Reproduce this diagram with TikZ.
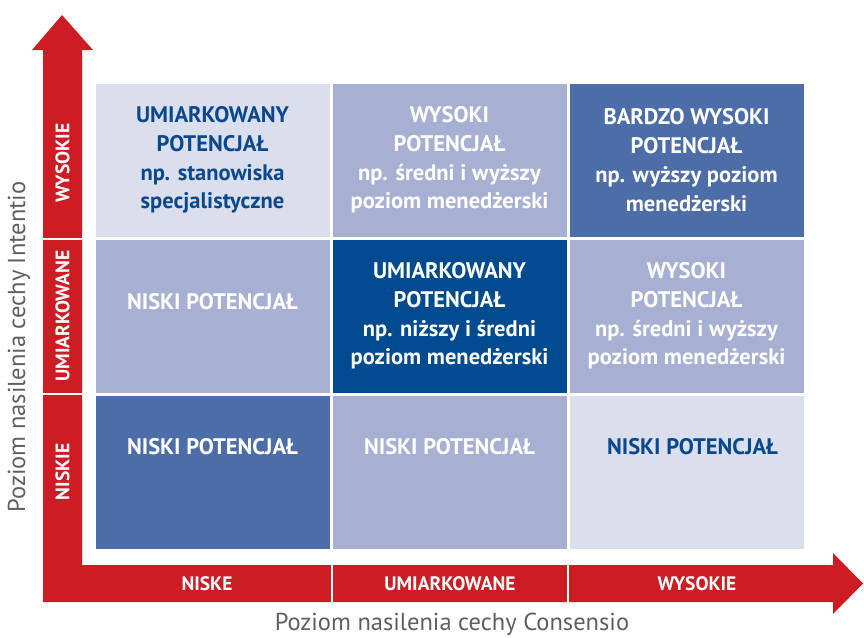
\documentclass[tikz,border=0pt]{standalone}
\usepackage{fontspec}
\setmainfont{PT Sans}
\usetikzlibrary{positioning}

\definecolor{arrowred}{RGB}{204,28,36}
\definecolor{celllight}{RGB}{218,222,237}
\definecolor{cellmid}{RGB}{167,176,211}
\definecolor{celldark}{RGB}{76,109,168}
\definecolor{cellnavy}{RGB}{0,74,143}
\definecolor{textnavy}{RGB}{10,72,140}
\definecolor{axisgray}{RGB}{95,95,95}

\begin{document}
\begin{tikzpicture}[x=1pt,y=-1pt,node distance=3pt,
  cell/.style={rectangle,minimum width=234pt,minimum height=153pt,inner sep=0pt,outer sep=0pt},
  txt/.style={align=center,font=\bfseries\fontsize{22.5}{28.8}\selectfont},
  axlab/.style={text=white,font=\bfseries\fontsize{19.5}{21}\selectfont},
  axtitle/.style={text=axisgray,font=\fontsize{24.5}{27}\selectfont},
  sep/.style={draw=white,line width=2pt}]
\useasboundingbox (0,0) rectangle (864,637);

% arrows
\fill[arrowred] (43,602) -- (43,50) -- (32,50) -- (62,15) -- (93,50) -- (82,50)
   -- (82,565) -- (833,565) -- (833,553) -- (863,583.5) -- (833,614) -- (833,602) -- cycle;
\draw[sep] (43,238.5) -- (82,238.5);
\draw[sep] (43,393.5) -- (82,393.5);
\draw[sep] (331.5,565) -- (331.5,602);
\draw[sep] (567.5,565) -- (567.5,602);

% matrix
\node[cell,fill=celllight] (c11) at (212.5,160) {};
\node[cell,fill=cellmid,right=of c11] (c12) {};
\node[cell,fill=celldark,right=of c12] (c13) {};
\node[cell,fill=cellmid,below=of c11] (c21) {};
\node[cell,fill=cellnavy,right=of c21] (c22) {};
\node[cell,fill=cellmid,right=of c22] (c23) {};
\node[cell,fill=celldark,below=of c21] (c31) {};
\node[cell,fill=cellmid,right=of c31] (c32) {};
\node[cell,fill=celllight,right=of c32] (c33) {};

\node[txt,text=textnavy] (t11) at (c11.center) {UMIARKOWANY\\POTENCJAŁ\\np. stanowiska\\specjalistyczne};
\node[txt,text=white] (t12) at (c12.center) {WYSOKI\\POTENCJAŁ\\np. średni i wyższy\\poziom menedżerski};
\node[txt,text=white] (t13) at (c13.center) {BARDZO WYSOKI\\POTENCJAŁ\\np. wyższy poziom\\menedżerski};
\node[txt,text=white] (t21) at ([yshift=14pt]c21.center) {NISKI POTENCJAŁ};
\node[txt,text=white] (t22) at (c22.center) {UMIARKOWANY\\POTENCJAŁ\\np. niższy i średni\\poziom menedżerski};
\node[txt,text=white] (t23) at (c23.center) {WYSOKI\\POTENCJAŁ\\np. średni i wyższy\\poziom menedżerski};
\node[txt,text=white] (t31) at ([yshift=25pt]c31.center) {NISKI POTENCJAŁ};
\node[txt,text=white] (t32) at ([yshift=25pt]c32.center) {NISKI POTENCJAŁ};
\node[txt,text=textnavy] (t33) at ([xshift=6pt,yshift=25pt]c33.center) {NISKI POTENCJAŁ};

% axis labels
\node[axlab,rotate=90] (yhigh) at (62.5,163) {WYSOKIE};
\node[axlab,rotate=90] (ymid) at (62.5,316) {UMIARKOWANE};
\node[axlab,rotate=90] (ylow) at (62.5,472) {NISKIE};
\node[axlab] (xlow) at (207,583.5) {NISKE};
\node[axlab] (xmid) at (450,583.5) {UMIARKOWANE};
\node[axlab] (xhigh) at (697,583.5) {WYSOKIE};

\node[axtitle,rotate=90] (ytitle) at (19,347) {Poziom nasilenia cechy Intentio};
\node[axtitle] (xtitle) at (452,624) {Poziom nasilenia cechy Consensio};
\end{tikzpicture}
\end{document}
